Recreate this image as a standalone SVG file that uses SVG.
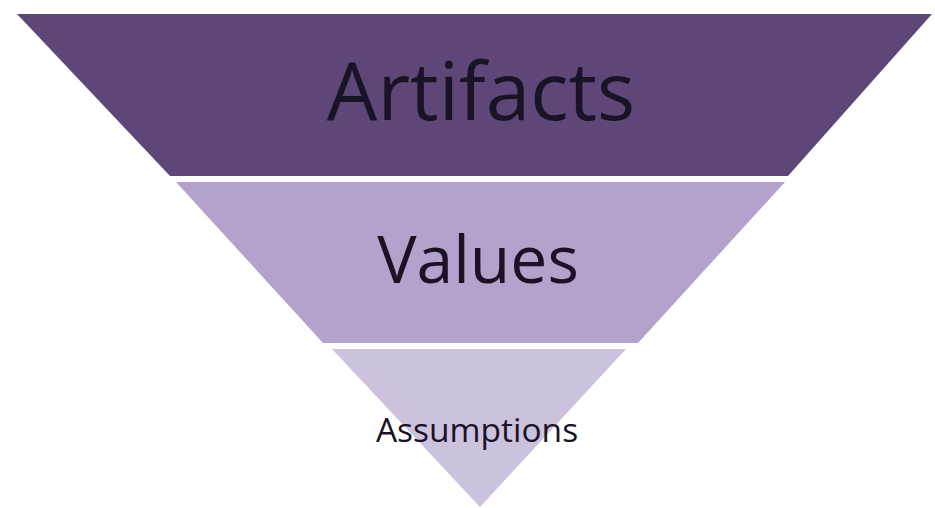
<svg xmlns="http://www.w3.org/2000/svg" width="935" height="508" viewBox="0 0 935 508">
<style>
.lbl{font-family:"Open Sans","Liberation Sans",sans-serif;fill:#1a1326;text-anchor:middle}
</style>
<rect width="935" height="508" fill="#ffffff"/>
<g id="artifacts">
<polygon points="17,14 932,14 788,176 170,176" fill="#5e4679"/>
<text class="lbl" x="481" y="120" font-size="80">Artifacts</text>
</g>
<g id="values">
<polygon points="176,182 785,182 638,343 323,343" fill="#b3a2cc"/>
<text class="lbl" x="478" y="283" font-size="66">Values</text>
</g>
<g id="assumptions">
<polygon points="332,349 626,349 480,507" fill="#ccc2de"/>
<text class="lbl" x="477" y="442" font-size="33.5">Assumptions</text>
</g>
<g id="connectors"></g>
</svg>
